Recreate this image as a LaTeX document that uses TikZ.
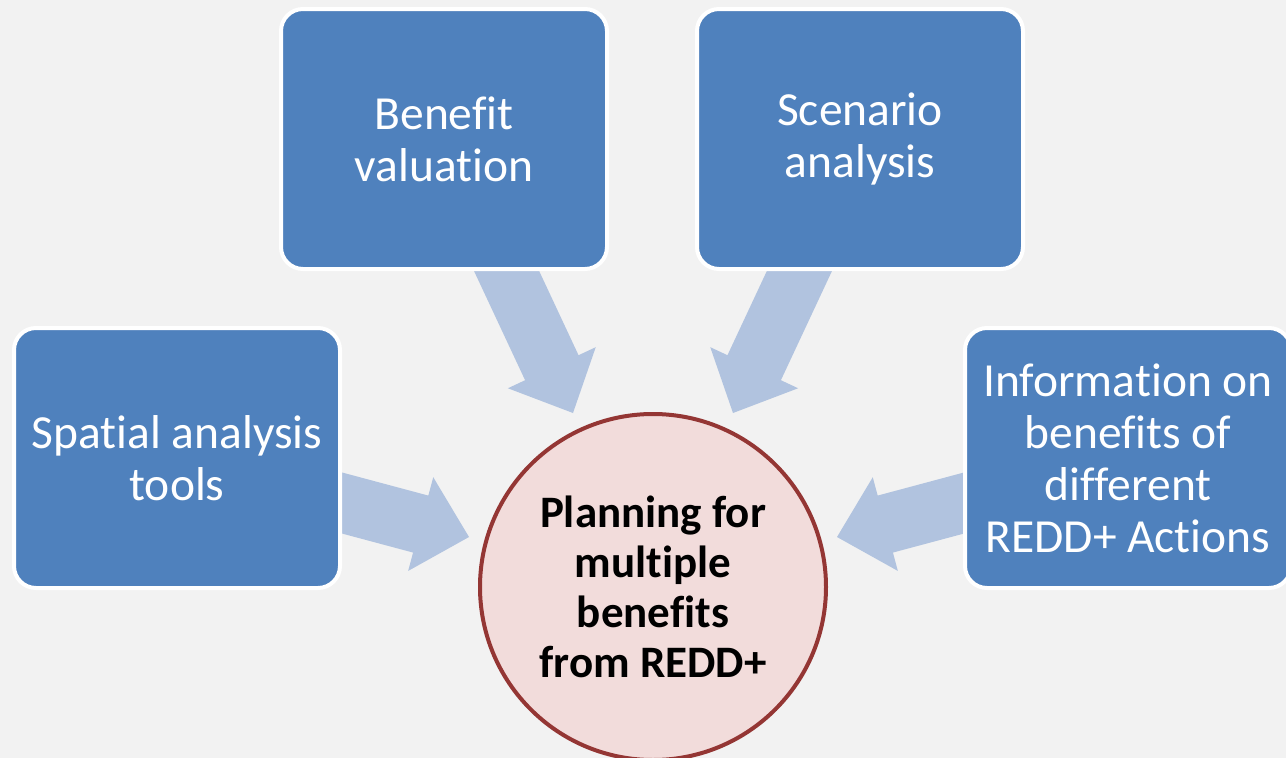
\documentclass[tikz,border=0pt]{standalone}
\usepackage{fontspec}
\setmainfont{Carlito}[Ligatures=NoCommon]
\usetikzlibrary{calc}
\definecolor{bgc}{HTML}{F2F2F2}
\definecolor{boxblue}{HTML}{4F81BD}
\definecolor{arrowblue}{HTML}{B1C3DF}
\definecolor{circfill}{HTML}{F2DCDB}
\definecolor{circline}{HTML}{943634}
\newcommand{\radarrow}[2]{%
  \coordinate (h#1#2) at ($(#2)!50pt!(#1)$);
  \fill[arrowblue] ($(#1)!29.5pt!90:(#2)$) -- ($(h#1#2)!29.5pt!90:(#2)$)
    -- ($(h#1#2)!48.5pt!90:(#2)$) -- (#2) -- ($(h#1#2)!48.5pt!-90:(#2)$)
    -- ($(h#1#2)!29.5pt!-90:(#2)$) -- ($(#1)!29.5pt!-90:(#2)$) -- cycle;}
\tikzset{
  srcbox/.style={draw=white, line width=4pt, fill=boxblue, rounded corners=22pt,
    minimum width=326pt, minimum height=260pt, inner sep=0pt, align=center,
    text=white, font=\fontsize{47.5}{52}\selectfont},
  hub/.style={circle, draw=circline, line width=4pt, fill=circfill,
    minimum size=346pt, inner sep=0pt, align=center, text=black,
    font=\fontsize{45}{50}\selectfont\bfseries}
}
\begin{document}
\begin{tikzpicture}[x=1pt,y=-1pt]
\useasboundingbox (0,0) rectangle (1286,758);
\fill[bgc] (0,0) rectangle (1286,758);
\clip (0,0) rectangle (1286,758);
% arrow anchor coordinates
\coordinate (a1) at (494.8,245.8);
\coordinate (t1) at (573,413);
\coordinate (a2) at (811.2,245.8);
\coordinate (t2) at (733,413);
\coordinate (a3) at (314,495.5);
\coordinate (t3) at (469,537);
\coordinate (a4) at (992,495.5);
\coordinate (t4) at (837,537);
\radarrow{a1}{t1}
\radarrow{a2}{t2}
\radarrow{a3}{t3}
\radarrow{a4}{t4}
\node[srcbox] (bv) at (444,139) {Benefit\\valuation};
\node[srcbox] (sa) at (860,139) {Scenario\\analysis};
\node[srcbox] (sp) at (177,458) {Spatial analysis\\tools};
\node[srcbox] (inf) at (1128,458) {Information on\\benefits of\\different\\REDD+ Actions};
\node[hub] (hub) at (653,587) {Planning for\\multiple\\benefits\\from REDD+};
\end{tikzpicture}
\end{document}
